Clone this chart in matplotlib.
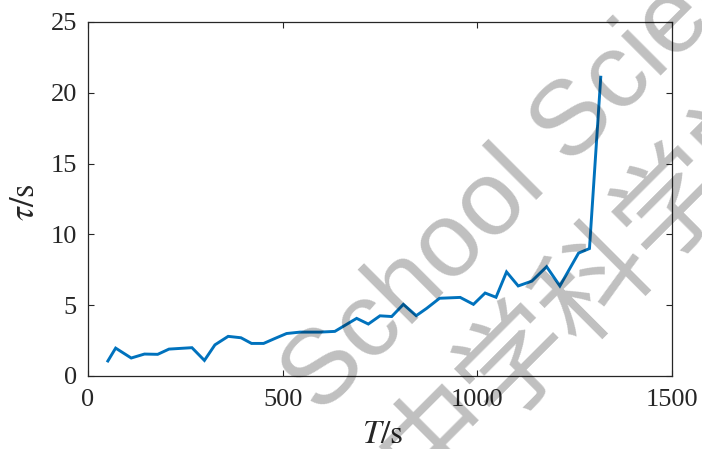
import matplotlib
matplotlib.use("Agg")
import matplotlib.pyplot as plt

# Relaxation time tau versus elapsed time T
time_s = [51, 71, 111, 145, 179, 208, 267, 299, 326, 360, 393, 420, 451, 480,
          510, 545, 596, 634, 690, 720, 750, 780, 810, 843, 870, 903, 956, 990,
          1020, 1048, 1075, 1105, 1140, 1178, 1212, 1260, 1288, 1317]
tau_s = [1.06, 1.97, 1.27, 1.55, 1.53, 1.90, 2.00, 1.10, 2.20, 2.80, 2.70, 2.30,
         2.30, 2.65, 3.00, 3.10, 3.10, 3.15, 4.07, 3.67, 4.25, 4.20, 5.06, 4.26,
         4.78, 5.49, 5.55, 5.06, 5.86, 5.56, 7.35, 6.36, 6.70, 7.72, 6.36, 8.68,
         9.00, 21.1]

x_ticks = [0, 500, 1000, 1500]
y_ticks = [0, 5, 10, 15, 20, 25]

plt.rcParams["mathtext.fontset"] = "stix"
plt.rcParams["font.family"] = ["Liberation Serif", "DejaVu Serif"]

W, H = 702, 449
fig = plt.figure(figsize=(W / 100, H / 100), dpi=100)
ax = fig.add_axes([88 / W, (H - 376) / H, (672 - 88) / W, (376 - 22) / H])

ax.plot(time_s, tau_s, color=(0, 0.447, 0.741), lw=2.1, solid_joinstyle="miter")

ax.set_xlim(0, 1500)
ax.set_ylim(0, 25)
ax.set_xticks(x_ticks)
ax.set_yticks(y_ticks)
ax.tick_params(direction="in", length=4.5, width=0.8, color="#262626",
               labelsize=19, labelcolor="#262626", top=True, right=True)
ax.tick_params(axis="x", pad=9)
ax.tick_params(axis="y", pad=8)
for sp in ax.spines.values():
    sp.set_color("#262626")
    sp.set_linewidth(0.9)

ax.set_xlabel(r"$T/\mathrm{s}$", fontsize=24, color="#262626")
ax.set_ylabel(r"$\tau/\mathrm{s}$", fontsize=25, color="#262626")
ax.xaxis.set_label_coords(0.505, -0.122)
ax.yaxis.set_label_coords(-0.078, 0.49)

# Semi-transparent watermark laid over the plot
wm_kw = dict(color="black", alpha=0.25, rotation=45, rotation_mode="anchor",
             zorder=10)
fig.text(320 / W, 1 - 416 / H, "School Science", fontsize=76,
         family=["Liberation Sans", "DejaVu Sans"], ha="left", va="baseline",
         **wm_kw)
fig.text(594 / W, 1 - 280 / H, "中学科学学", fontsize=80,
         family=["Noto Sans CJK SC", "DejaVu Sans"], ha="center", va="center",
         **wm_kw)

fig.savefig("out.png", dpi=100, facecolor="white")
